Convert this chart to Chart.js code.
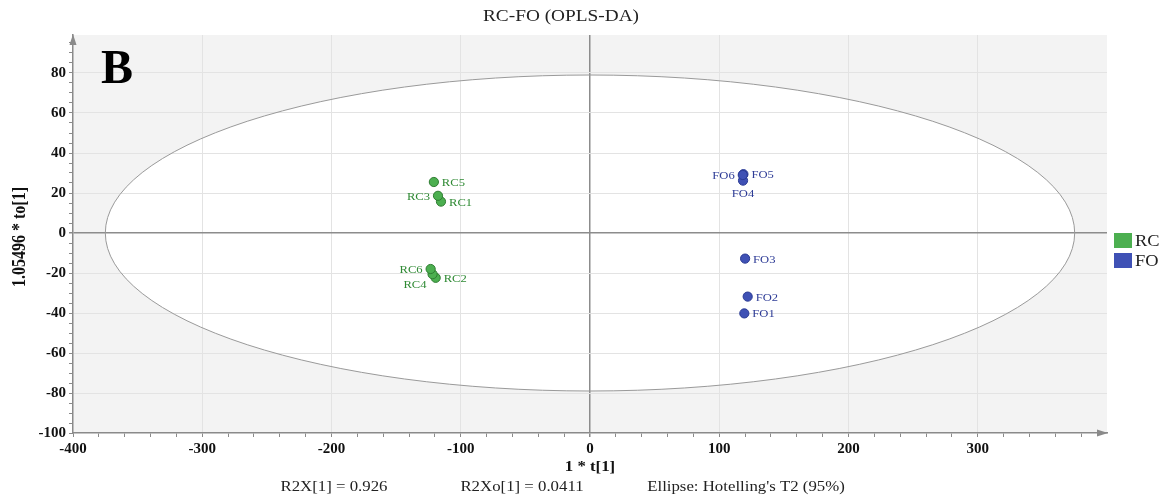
<!DOCTYPE html>
<html>
<head>
<meta charset="utf-8">
<script src="https://cdn.jsdelivr.net/npm/chart.js@4/dist/chart.umd.min.js"></script>
<style>
  html, body { margin: 0; padding: 0; background: #fff; }
</style>
</head>
<body>
<canvas id="oplsChart" width="1165" height="499"></canvas>
<script>
// score values
const rcNames = ['RC1', 'RC2', 'RC3', 'RC4', 'RC5', 'RC6'];
const rcT = [-115.3, -119.4, -117.6, -121.8, -120.8, -123.3];
const rcTo = [15.7, -22.4, 18.6, -20.6, 25.5, -18.0];

const foNames = ['FO1', 'FO2', 'FO3', 'FO4', 'FO5', 'FO6'];
const foT = [119.4, 122.0, 120.0, 118.4, 118.7, 118.2];
const foTo = [-40.2, -31.8, -12.8, 26.2, 29.4, 29.0];

const xTickLabels = [-400, -300, -200, -100, 0, 100, 200, 300];
const yTickLabels = [-100, -80, -60, -40, -20, 0, 20, 40, 60, 80];

// Hotelling's T2 ellipse semi-axes (data units)
const ellipseT = 375;
const ellipseTo = 79;

const chartTitle = 'RC-FO (OPLS-DA)';
const footNotes = ['R2X[1] = 0.926', 'R2Xo[1] = 0.0411', "Ellipse: Hotelling's T2 (95%)"];

// where each point label goes relative to its dot
const labelSide = {
  RC1: 'right', RC2: 'right', RC3: 'left', RC4: 'belowleft', RC5: 'right', RC6: 'left',
  FO1: 'right', FO2: 'right', FO3: 'right', FO4: 'below', FO5: 'right', FO6: 'left'
};

const SERIF = '"Liberation Serif", "Times New Roman", serif';

function toPoints(names, xs, ys) {
  return names.map((n, i) => ({ x: xs[i], y: ys[i], name: n }));
}

function stretchText(ctx, str, x, y, font, color, align, sx) {
  ctx.save();
  ctx.translate(x, y);
  ctx.scale(sx || 1.2, 1);
  ctx.font = font;
  ctx.fillStyle = color;
  ctx.textAlign = align || 'left';
  ctx.textBaseline = 'alphabetic';
  ctx.fillText(str, 0, 0);
  ctx.restore();
}

const decorPlugin = {
  id: 'decor',
  beforeDraw(chart) {
    const { ctx, chartArea: a, scales } = chart;
    const cx = scales.x.getPixelForValue(0), cy = scales.y.getPixelForValue(0);
    const rx = scales.x.getPixelForValue(ellipseT) - cx;
    const ry = cy - scales.y.getPixelForValue(ellipseTo);
    ctx.save();
    ctx.fillStyle = '#f3f3f3';
    ctx.fillRect(a.left, a.top, a.right - a.left, a.bottom - a.top);
    ctx.beginPath();
    ctx.ellipse(cx, cy, rx, ry, 0, 0, Math.PI * 2);
    ctx.fillStyle = '#ffffff';
    ctx.fill();
    ctx.restore();
  },
  beforeDatasetsDraw(chart) {
    const { ctx, scales } = chart;
    const cx = scales.x.getPixelForValue(0), cy = scales.y.getPixelForValue(0);
    const rx = scales.x.getPixelForValue(ellipseT) - cx;
    const ry = cy - scales.y.getPixelForValue(ellipseTo);
    ctx.save();
    ctx.beginPath();
    ctx.ellipse(cx, cy, rx, ry, 0, 0, Math.PI * 2);
    ctx.strokeStyle = '#9a9a9a';
    ctx.lineWidth = 1;
    ctx.stroke();
    ctx.restore();
  },
  afterDatasetsDraw(chart) {
    const { ctx } = chart;
    chart.data.datasets.forEach((ds, di) => {
      const meta = chart.getDatasetMeta(di);
      meta.data.forEach((el, i) => {
        const name = ds.data[i].name;
        const side = labelSide[name];
        const font = '10.5px ' + SERIF;
        if (side === 'right') stretchText(ctx, name, el.x + 8, el.y + 4, font, ds.labelColor, 'left');
        else if (side === 'left') stretchText(ctx, name, el.x - 8, el.y + 4, font, ds.labelColor, 'right');
        else if (side === 'below') stretchText(ctx, name, el.x, el.y + 16, font, ds.labelColor, 'center');
        else if (side === 'belowleft') stretchText(ctx, name, el.x - 6, el.y + 14, font, ds.labelColor, 'right');
      });
    });
  },
  afterDraw(chart) {
    const { ctx, chartArea: a } = chart;
    ctx.save();
    ctx.fillStyle = '#8a8a8a';
    // arrow heads on the axes
    ctx.beginPath();
    ctx.moveTo(a.right + 1, a.bottom);
    ctx.lineTo(a.right - 10, a.bottom - 3.5);
    ctx.lineTo(a.right - 10, a.bottom + 3.5);
    ctx.closePath();
    ctx.fill();
    ctx.beginPath();
    ctx.moveTo(a.left, a.top - 1);
    ctx.lineTo(a.left - 3.5, a.top + 10);
    ctx.lineTo(a.left + 3.5, a.top + 10);
    ctx.closePath();
    ctx.fill();
    ctx.restore();

    // panel letter
    ctx.save();
    ctx.font = 'bold 48px ' + SERIF;
    ctx.fillStyle = '#000';
    ctx.fillText('B', 101, 83);
    ctx.restore();

    stretchText(ctx, chartTitle, 561, 21, '16.5px ' + SERIF, '#222', 'center', 1.17);
    stretchText(ctx, '1 * t[1]', 590, 471, 'bold 14px ' + SERIF, '#111', 'center');
    stretchText(ctx, footNotes[0], 334, 491, '14px ' + SERIF, '#222', 'center');
    stretchText(ctx, footNotes[1], 522, 491, '14px ' + SERIF, '#222', 'center');
    stretchText(ctx, footNotes[2], 746, 491, '14px ' + SERIF, '#222', 'center');

    // y axis title
    ctx.save();
    ctx.translate(25, 237);
    ctx.rotate(-Math.PI / 2);
    ctx.scale(1, 1.2);
    ctx.font = 'bold 16px ' + SERIF;
    ctx.fillStyle = '#111';
    ctx.textAlign = 'center';
    ctx.fillText('1.05496 * to[1]', 0, 0);
    ctx.restore();

    // legend
    chart.data.datasets.forEach((ds, i) => {
      const y = 233 + i * 20;
      ctx.save();
      ctx.fillStyle = ds.backgroundColor;
      ctx.fillRect(1114, y, 18, 15);
      ctx.restore();
      stretchText(ctx, ds.label, 1135, y + 13, '16px ' + SERIF, '#222', 'left', 1.15);
    });
  }
};

function minorTicks(lo, hi, step) {
  const t = [];
  for (let v = lo; v <= hi; v += step) t.push({ value: v });
  return t;
}

const ctx = document.getElementById('oplsChart');
new Chart(ctx, {
  type: 'scatter',
  data: {
    datasets: [{
      label: 'RC',
      data: toPoints(rcNames, rcT, rcTo),
      backgroundColor: '#4caf50',
      borderColor: '#2f7d32',
      labelColor: '#2f8a34',
      borderWidth: 1,
      pointRadius: 4.6
    }, {
      label: 'FO',
      data: toPoints(foNames, foT, foTo),
      backgroundColor: '#3f51b5',
      borderColor: '#2a3a94',
      labelColor: '#2d3b96',
      borderWidth: 1,
      pointRadius: 4.6
    }]
  },
  options: {
    responsive: false,
    animation: false,
    devicePixelRatio: 1,
    layout: { padding: { top: 35, right: 58, left: 0, bottom: 0 } },
    plugins: {
      legend: { display: false },
      tooltip: { enabled: false }
    },
    scales: {
      x: {
        type: 'linear',
        min: -400,
        max: 400,
        afterBuildTicks: axis => { axis.ticks = minorTicks(-400, 380, 20); },
        afterFit: axis => { axis.height = 66; },
        ticks: {
          autoSkip: false,
          maxRotation: 0,
          padding: 3,
          color: '#111',
          font: { family: SERIF, size: 15, weight: 'bold' },
          callback: v => xTickLabels.includes(v) ? String(v) : ''
        },
        grid: {
          tickLength: 4,
          tickColor: '#8a8a8a',
          color: c => {
            const v = c.tick && c.tick.value;
            if (v === 0) return '#8c8c8c';
            if (v % 100 === 0 && v > -400 && v < 400) return '#e3e3e3';
            return 'rgba(0,0,0,0)';
          },
          lineWidth: c => (c.tick && c.tick.value === 0 ? 1.5 : 1)
        },
        border: { color: '#8a8a8a', width: 1.5 }
      },
      y: {
        type: 'linear',
        min: -100,
        max: 99,
        afterBuildTicks: axis => { axis.ticks = minorTicks(-100, 95, 5); },
        afterFit: axis => { axis.width = 73; },
        ticks: {
          autoSkip: false,
          padding: 3,
          color: '#111',
          font: { family: SERIF, size: 15, weight: 'bold' },
          callback: v => yTickLabels.includes(v) ? String(v) : ''
        },
        grid: {
          tickLength: 4,
          tickColor: '#8a8a8a',
          color: c => {
            const v = c.tick && c.tick.value;
            if (v === 0) return '#8c8c8c';
            if (v % 20 === 0 && v > -100) return '#e3e3e3';
            return 'rgba(0,0,0,0)';
          },
          lineWidth: c => (c.tick && c.tick.value === 0 ? 1.5 : 1)
        },
        border: { color: '#8a8a8a', width: 1.5 }
      }
    }
  },
  plugins: [decorPlugin]
});
</script>
</body>
</html>
